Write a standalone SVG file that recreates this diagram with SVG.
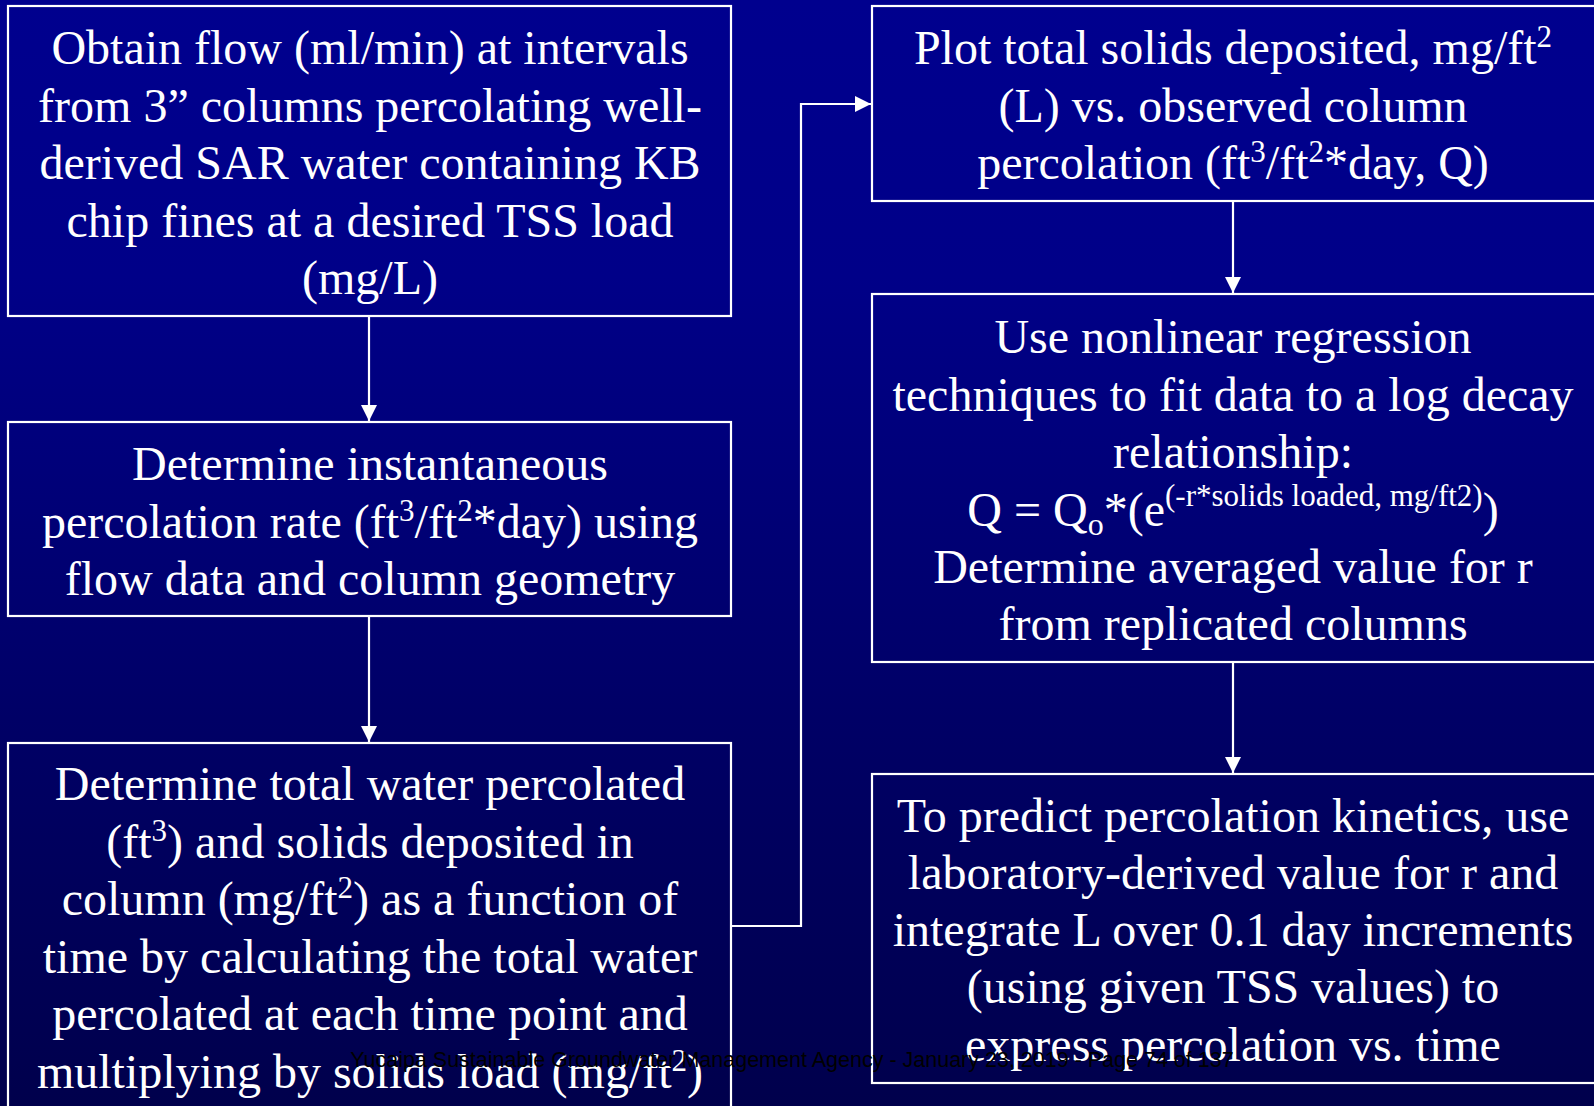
<svg xmlns="http://www.w3.org/2000/svg" width="1594" height="1106" viewBox="0 0 1594 1106">
<defs>
<linearGradient id="bg" x1="0" y1="0" x2="0" y2="1">
<stop offset="0" stop-color="#00008E"/>
<stop offset="0.25" stop-color="#000088"/>
<stop offset="0.65" stop-color="#000066"/>
<stop offset="1" stop-color="#00004C"/>
</linearGradient>
<marker id="arr" markerWidth="16" markerHeight="16" refX="16" refY="8" orient="auto" markerUnits="userSpaceOnUse">
<path d="M0,0 L16,8 L0,16 Z" fill="#FFFFFF"/>
</marker>
</defs>
<style>
.box{fill:none;stroke:#FFFFFF;stroke-width:2.2}
.t{font-family:"Liberation Serif","Times New Roman",serif;font-size:48px;fill:#FFFFFF;text-anchor:middle}
.c{fill:none;stroke:#FFFFFF;stroke-width:2.2}
.foot{font-family:"Liberation Sans",Arial,sans-serif;font-size:21.5px;fill:#000000;text-anchor:middle}
</style>
<rect x="0" y="0" width="1594" height="1106" fill="url(#bg)"/>

<g id="connectors">
<line class="c" x1="369" y1="316" x2="369" y2="421" marker-end="url(#arr)"/>
<line class="c" x1="369" y1="616" x2="369" y2="742" marker-end="url(#arr)"/>
<polyline class="c" points="731,926 801,926 801,104 871,104" marker-end="url(#arr)"/>
<line class="c" x1="1233" y1="201" x2="1233" y2="293" marker-end="url(#arr)"/>
<line class="c" x1="1233" y1="662" x2="1233" y2="773" marker-end="url(#arr)"/>
</g>

<g id="node1">
<rect class="box" x="8" y="6" width="723" height="310"/>
<text class="t" x="370" y="64">Obtain flow (ml/min) at intervals</text>
<text class="t" x="370" y="121.5">from 3” columns percolating  well-</text>
<text class="t" x="370" y="179">derived SAR water containing KB</text>
<text class="t" x="370" y="236.5">chip fines at a desired TSS load</text>
<text class="t" x="370" y="294">(mg/L)</text>
</g>

<g id="node2">
<rect class="box" x="8" y="422" width="723" height="194"/>
<text class="t" x="370" y="480">Determine instantaneous</text>
<text class="t" x="370" y="537.5">percolation rate (ft<tspan font-size="31" dy="-17">3</tspan><tspan dy="17">/ft</tspan><tspan font-size="31" dy="-17">2</tspan><tspan dy="17">*day) using</tspan></text>
<text class="t" x="370" y="595">flow data and column geometry</text>
</g>

<g id="node3">
<rect class="box" x="8" y="743" width="723" height="380"/>
<text class="t" x="370" y="800">Determine total water percolated</text>
<text class="t" x="370" y="857.5">(ft<tspan font-size="31" dy="-17">3</tspan><tspan dy="17">) and solids deposited in</tspan></text>
<text class="t" x="370" y="915">column (mg/ft<tspan font-size="31" dy="-17">2</tspan><tspan dy="17">) as a function of</tspan></text>
<text class="t" x="370" y="972.5">time by calculating the total water</text>
<text class="t" x="370" y="1030">percolated at each time point and</text>
<text class="t" x="370" y="1087.5">multiplying by solids load (mg/ft<tspan font-size="31" dy="-17">2</tspan><tspan dy="17">)</tspan></text>
</g>

<g id="node4">
<rect class="box" x="872" y="6" width="730" height="195"/>
<text class="t" x="1233" y="64">Plot total solids deposited, mg/ft<tspan font-size="31" dy="-17">2</tspan></text>
<text class="t" x="1233" y="121.5">(L) vs. observed column</text>
<text class="t" x="1233" y="179">percolation (ft<tspan font-size="31" dy="-17">3</tspan><tspan dy="17">/ft</tspan><tspan font-size="31" dy="-17">2</tspan><tspan dy="17">*day, Q)</tspan></text>
</g>

<g id="node5">
<rect class="box" x="872" y="294" width="730" height="368"/>
<text class="t" x="1233" y="353">Use nonlinear regression</text>
<text class="t" x="1233" y="410.5">techniques to fit data to a log decay</text>
<text class="t" x="1233" y="468">relationship:</text>
<text class="t" x="1233" y="526">Q = Q<tspan font-size="32" dy="9">o</tspan><tspan dy="-9">*(e</tspan><tspan font-size="31" dy="-20">(-r*solids loaded, mg/ft2)</tspan><tspan dy="20">)</tspan></text>
<text class="t" x="1233" y="583">Determine averaged value for r</text>
<text class="t" x="1233" y="640">from replicated columns</text>
</g>

<g id="node6">
<rect class="box" x="872" y="774" width="730" height="309"/>
<text class="t" x="1233" y="832">To predict percolation kinetics, use</text>
<text class="t" x="1233" y="889">laboratory-derived value for r and</text>
<text class="t" x="1233" y="946">integrate L over 0.1 day increments</text>
<text class="t" x="1233" y="1003">(using given TSS values) to</text>
<text class="t" x="1233" y="1061">express percolation vs. time</text>
</g>

<text class="foot" x="792" y="1067">Yucaipa Sustainable Groundwater Management Agency - January 23, 2019 - Page 74 of 137</text>
</svg>
